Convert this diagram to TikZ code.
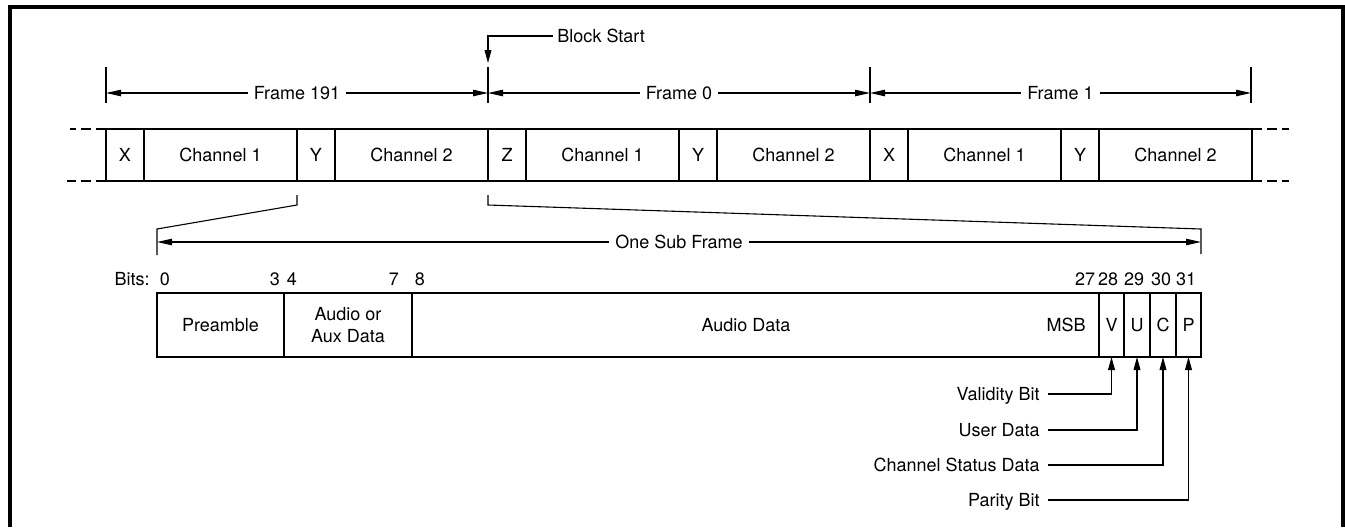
\documentclass[tikz,border=0pt]{standalone}
\usepackage{fontspec}
\setmainfont{TeX Gyre Heros}
\usetikzlibrary{arrows.meta, positioning, calc}

\begin{document}
\begin{tikzpicture}[x=0.5pt, y=-0.5pt,
  font=\fontsize{9}{10.6}\selectfont,
  cell/.style={draw, line width=1.2pt, inner sep=0pt, outer sep=0pt,
               minimum height=26pt, align=center},
  dim/.style={line width=0.55pt,
              {Triangle[length=7.5pt,width=3.2pt]}-{Triangle[length=7.5pt,width=3.2pt]}},
  pointer/.style={line width=0.55pt, -{Triangle[length=6.5pt,width=3.4pt]}},
  thin/.style={line width=0.55pt},
  lbl/.style={fill=white, inner sep=3pt},
  note/.style={anchor=east, inner sep=0pt, text height=6.5pt, text depth=0pt},
  ext/.style={line width=1.2pt, dash pattern=on 5pt off 2.5pt}]
  \useasboundingbox (0,0) rectangle (1345,527);
  % outer frame, open at the bottom
  \draw[line width=1.9pt] (10,527) -- (10,7) -- (1343,7) -- (1343,527);

  % three frames of two sub frames each
  \foreach \fs/\pre/\n in {106/X/a, 488/Z/b, 870/X/c} {
    \node[cell, minimum width=19pt]   (f\n-pre) at (\fs+19,155)    {\pre};
    \node[cell, minimum width=76.5pt] (f\n-c1)  at (\fs+114.5,155) {Channel 1};
    \node[cell, minimum width=19pt]   (f\n-y)   at (\fs+210,155)   {Y};
    \node[cell, minimum width=76.5pt] (f\n-c2)  at (\fs+305.5,155) {Channel 2};
  }
  \draw[ext] (fa-pre.north west) -- ++(-36,0);
  \draw[ext] (fa-pre.south west) -- ++(-39,0);
  \draw[ext] (fc-c2.north east) -- ++(37,0);
  \draw[ext] (fc-c2.south east) -- ++(37,0);

  % frame dimensions
  \foreach \t [count=\i] in {106,488,870,1251} {
    \draw[thin] (\t,67) -- (\t,103);
    \coordinate (t\i) at (\t,93);
  }
  \draw[dim] (t1) -- node[lbl] {Frame 191} (t2);
  \draw[dim] (t2) -- node[lbl] {Frame 0} (t3);
  \draw[dim] (t3) -- node[lbl] {Frame 1} (t4);

  \node[anchor=west, inner sep=2pt] (blk) at (553,36) {Block Start};
  \coordinate (blkend) at (488,63);
  \draw[pointer] (blk.west) -| (blkend);

  % zoom onto one sub frame
  \coordinate (sl) at (157,229);
  \coordinate (sr) at (1201,229);
  \draw[thin] ($(fa-y.south west)+(0,14)$) -- ++(0,10) -- (sl) -- ++(0,26);
  \draw[thin] ($(fb-pre.south west)+(0,14)$) -- ++(0,10) -- (sr) -- ++(0,25);
  \coordinate (s1) at (157,242);
  \coordinate (s2) at (1201,242);
  \draw[dim] (s1) -- node[lbl] {One Sub Frame} (s2);

  % sub frame bits
  \node[anchor=east, inner sep=0pt] at (150,279) {Bits:};
  \foreach \x/\b in {165/0, 275/3, 292/4, 394/7, 420/8,
                     1085/27, 1108/28, 1134/29, 1161/30, 1186/31}
    \node at (\x,279) {\b};

  \foreach \a/\b/\txt/\n in {157/284/Preamble/pre, 284/412/{Audio or\\Aux Data}/aux,
                             412/1099/{}/aud, 1099/1124/V/v, 1124/1150/U/u,
                             1150/1176/C/c, 1176/1201/P/p}
    \node[cell, minimum width={(\b-\a)*0.5pt}, minimum height=32pt]
      (s-\n) at ({(\a+\b)/2},325) {\txt};
  \node at (746,325) {Audio Data};
  \node[anchor=east, inner sep=0pt] at ($(s-aud.east)+(-13,0)$) {MSB};

  % bit descriptions
  \foreach \y/\n/\txt in {394/v/Validity Bit, 430/u/User Data,
                          465/c/Channel Status Data, 500/p/Parity Bit} {
    \node[note] (l-\n) at (1040,\y) {\txt};
    \draw[pointer] ($(l-\n.east)+(8,0)$) -| (s-\n.south);
  }
\end{tikzpicture}
\end{document}
